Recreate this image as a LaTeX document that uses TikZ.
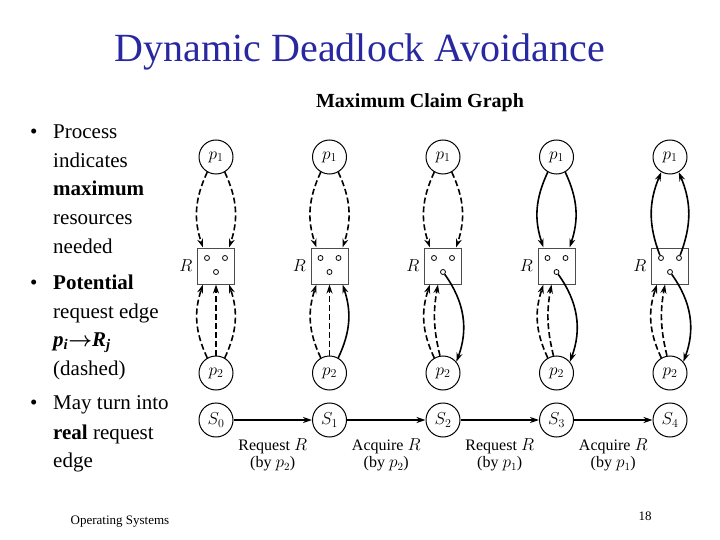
\documentclass[tikz,border=0pt]{standalone}
\usepackage{fontspec}
\setmainfont{Liberation Serif}
\usetikzlibrary{arrows.meta}
\definecolor{titleblue}{RGB}{40,40,160}

\begin{document}
\begin{tikzpicture}[x=1pt, y=-1pt,
    proc/.style={circle, draw=black, line width=1pt, fill=white,
        minimum size=34pt, inner sep=0pt, font=\fontsize{17}{17}\selectfont},
    res/.style={rectangle, draw=black!70, line width=1pt, minimum width=37pt,
        minimum height=36pt, inner sep=0pt},
    unit/.style={circle, draw=black, line width=0.8pt, minimum size=5pt, inner sep=0pt},
    claim/.style={line width=1.6pt, dash pattern=on 6pt off 3pt, -{Stealth[length=9pt,width=6pt]}},
    edge/.style={line width=1.6pt, -{Stealth[length=9pt,width=6pt]}},
    bullet/.style={anchor=base west, inner sep=0pt, font=\fontsize{21}{21}\selectfont},
    steplabel/.style={font=\fontsize{16}{17}\selectfont, align=center}
]
    \useasboundingbox (0,0) rectangle (720,540);
    % title and side text
    \node[text=titleblue, font=\fontsize{40}{40}\selectfont] (title) at (360,52) {Dynamic Deadlock Avoidance};
    \node[font=\bfseries\fontsize{20}{20}\selectfont] (mcg) at (420,103) {Maximum Claim Graph};
    \node[bullet] (b1) at (30,139) {•};
    \node[bullet] (t1) at (53,139) {Process};
    \node[bullet] (t2) at (53,168) {indicates};
    \node[bullet] (t3) at (53,196) {\textbf{maximum}};
    \node[bullet] (t4) at (53,225) {resources};
    \node[bullet] (t5) at (53,254) {needed};
    \node[bullet] (b2) at (30,289) {•};
    \node[bullet] (t6) at (53,289) {\textbf{Potential}};
    \node[bullet] (t7) at (53,318) {request edge};
    \node[bullet] (t8) at (53,346) {\textbf{\textit{p\textsubscript{i}}}{\boldmath$\rightarrow$}\textbf{\textit{R\textsubscript{j}}}};
    \node[bullet] (t9) at (53,375) {(dashed)};
    \node[bullet] (b3) at (30,409) {•};
    \node[bullet] (t10) at (53,409) {May turn into};
    \node[bullet] (t11) at (53,439) {\textbf{real} request};
    \node[bullet] (t12) at (53,467) {edge};
    \node[font=\fontsize{13}{13}\selectfont] (os) at (120,522) {Operating Systems};
    \node[font=\fontsize{13}{13}\selectfont] (pg) at (645,516) {18};

    % states
    \foreach \i in {0,...,4} {
        \pgfmathsetmacro{\cx}{216+113.5*\i}
        \node[proc] (p1-\i) at (\cx,157) {$p_1$};
        \node[proc] (p2-\i) at (\cx,373) {$p_2$};
        \node[res, label={[xshift=-1pt, font=\fontsize{17}{17}\selectfont]left:$R$}] (r-\i) at (\cx,266) {};
        \node[unit] (u1-\i) at (\cx-9,258) {};
        \node[unit] (u2-\i) at (\cx+9,258) {};
        \node[unit] (u3-\i) at (\cx,272) {};
        \node[proc] (s-\i) at (\cx,420) {$S_{\i}$};
        % claims of p2 on the left side
        \draw[claim] (p2-\i.120) to[bend left=22] ([xshift=-13pt]r-\i.south);
    }
    \foreach \i in {0,...,3} {
        \pgfmathtruncatemacro{\j}{\i+1}
        \draw[edge] (s-\i) -- (s-\j);
    }
    \node[steplabel] (c0) at (272.75,455) {Request $R$\\(by $p_2$)};
    \node[steplabel] (c1) at (386.25,455) {Acquire $R$\\(by $p_2$)};
    \node[steplabel] (c2) at (499.75,455) {Request $R$\\(by $p_1$)};
    \node[steplabel] (c3) at (613.25,455) {Acquire $R$\\(by $p_1$)};

    % S0 and S1
    \foreach \i in {0,1} {
        \draw[claim] (p1-\i.240) to[bend right=22] ([xshift=-13pt]r-\i.north);
        \draw[claim] (p1-\i.300) to[bend left=22] ([xshift=13pt]r-\i.north);
        \draw[claim] (p2-\i) -- (r-\i);
    }
    \draw[claim] (p2-0.60) to[bend right=22] ([xshift=13pt]r-0.south);
    \draw[edge] (p2-1.60) to[bend right=22] ([xshift=13pt]r-1.south);

    % S2, S3 and S4
    \foreach \i in {2,3,4} {
        \draw[claim] (p2-\i.100) to[bend left=12] ([xshift=-5pt]r-\i.south);
        \draw[edge] (u3-\i) to[bend left=28] (p2-\i.40);
    }
    \draw[claim] (p1-2.240) to[bend right=22] ([xshift=-13pt]r-2.north);
    \draw[claim] (p1-2.300) to[bend left=22] ([xshift=13pt]r-2.north);
    \draw[edge] (p1-3.240) to[bend right=22] ([xshift=-13pt]r-3.north);
    \draw[edge] (p1-3.300) to[bend left=22] ([xshift=13pt]r-3.north);
    \draw[edge] (u1-4) to[bend left=22] (p1-4.240);
    \draw[edge] (u2-4) to[bend right=22] (p1-4.300);
\end{tikzpicture}
\end{document}
